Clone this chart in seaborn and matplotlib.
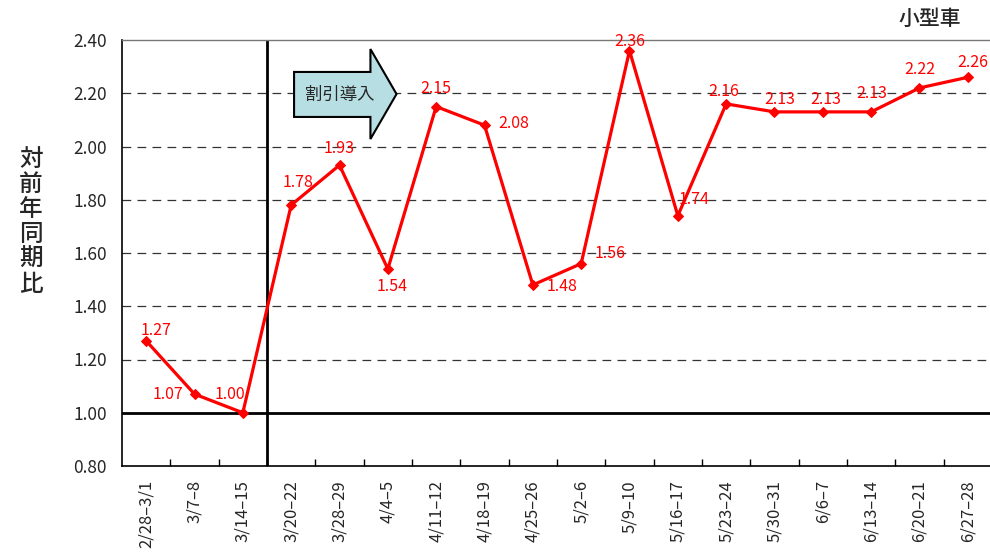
import matplotlib
matplotlib.use('Agg')
import matplotlib.pyplot as plt
import seaborn as sns
import numpy as np
import pandas as pd
from matplotlib.patches import Polygon
from matplotlib.ticker import MultipleLocator, FixedLocator

# data
weeks = ['2/28–3/1', '3/7–8', '3/14–15', '3/20–22', '3/28–29', '4/4–5',
         '4/11–12', '4/18–19', '4/25–26', '5/2–6', '5/9–10', '5/16–17',
         '5/23–24', '5/30–31', '6/6–7', '6/13–14', '6/20–21', '6/27–28']
ratio = [1.27, 1.07, 1.00, 1.78, 1.93, 1.54, 2.15, 2.08, 1.48, 1.56,
         2.36, 1.74, 2.16, 2.13, 2.13, 2.13, 2.22, 2.26]

# label offsets in pixels (dx, dy)
label_offsets = [(10, 10), (-26, 0), (-13, 18), (7, 23), (0, 17), (4, -18),
                 (0, 18), (29, 2), (29, -2), (29, 10), (0, 9), (16, 16),
                 (-2, 12), (5, 12), (3, 12), (1, 18), (0, 18), (5, 15)]

sns.set_style('white')
plt.rcParams['font.family'] = ['Noto Sans CJK JP', 'DejaVu Sans']

df = pd.DataFrame({'week': weeks, 'ratio': ratio})

fig = plt.figure(figsize=(9.9, 5.55), dpi=100)
ax = fig.add_axes([122 / 990, 1 - 466 / 555, 870 / 990, 426 / 555])

sns.lineplot(data=df, x='week', y='ratio', sort=False, color='#ff0000',
             linewidth=2.3, marker='D', markersize=5.5, markeredgecolor='#ff0000',
             ax=ax, zorder=5)

ax.set_xlim(-0.5, len(weeks) - 0.5)
ax.set_ylim(0.8, 2.4)
ax.yaxis.set_major_locator(MultipleLocator(0.2))
ax.yaxis.set_major_formatter(plt.FuncFormatter(lambda v, p: f'{v:.2f}'))

# dashed grid
for yv in np.arange(1.2, 2.21, 0.2):
    ax.axhline(yv, color='#333333', linestyle=(0, (7, 5)), linewidth=0.9, zorder=1)
ax.axhline(1.0, color='black', linewidth=2, zorder=2)
ax.axvline(2.5, color='black', linewidth=2, zorder=2)

# spines
for s in ['left', 'bottom']:
    ax.spines[s].set_color('black')
    ax.spines[s].set_linewidth(1.2)
ax.spines['top'].set_color('#777777')
ax.spines['top'].set_linewidth(1)
ax.spines['right'].set_visible(False)

# ticks
ax.set_xticks(range(len(weeks)))
ax.set_xticklabels(weeks, rotation=90, fontsize=12)
ax.xaxis.set_minor_locator(FixedLocator(np.arange(0.5, len(weeks) - 1, 1)))
ax.tick_params(axis='x', which='major', length=0, pad=10)
ax.tick_params(axis='x', which='minor', direction='in', length=5, width=1, color='black', bottom=True)
ax.tick_params(axis='y', length=0, pad=11, labelsize=12.5)
ax.set_xlabel('')
ax.set_ylabel('')

# data labels
for i, (v, off) in enumerate(zip(ratio, label_offsets)):
    ax.annotate(f'{v:.2f}', (i, v), xytext=off, textcoords='offset pixels',
                ha='center', va='center', color='#ff0000', fontsize=11.5, zorder=6)

# block arrow
arrow = Polygon([(3.06, 2.28), (4.64, 2.28), (4.64, 2.366), (5.18, 2.197),
                 (4.64, 2.028), (4.64, 2.111), (3.06, 2.111)], closed=True,
                facecolor='#b7dfe3', edgecolor='black', linewidth=1.5, zorder=4)
ax.add_patch(arrow)
ax.text(4.015, 2.193, '割引導入', ha='center', va='center', fontsize=12.5, zorder=5)

fig.text(0.031, 0.6, '\n'.join('対前年同期比'), ha='center', va='center',
         fontsize=17, fontweight='medium', linespacing=1.12)
fig.text(0.939, 0.966, '小型車', ha='center', va='center', fontsize=15, fontweight='medium')

fig.savefig('out.png', dpi=100)
